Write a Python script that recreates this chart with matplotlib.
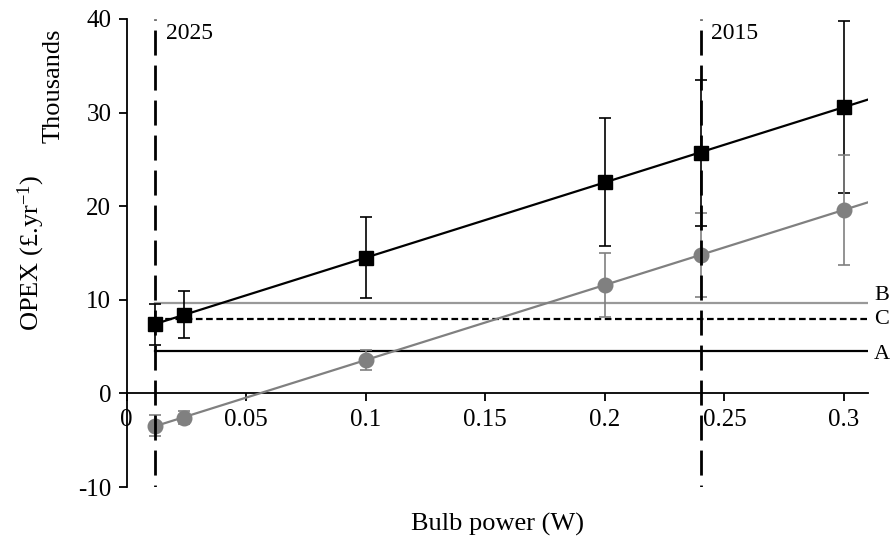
import matplotlib
matplotlib.use("Agg")
import matplotlib.pyplot as plt
import numpy as np

plt.rcParams['font.family'] = ['Liberation Serif', 'DejaVu Serif']
plt.rcParams['mathtext.fontset'] = 'custom'
plt.rcParams['mathtext.rm'] = 'Liberation Serif'
plt.rcParams['mathtext.default'] = 'regular'
plt.rcParams['axes.unicode_minus'] = False

# bulb power (W)
power = [0.012, 0.024, 0.1, 0.2, 0.24, 0.3]

# OPEX in thousands of £ per year, with +/- error
opex_total = [7.4, 8.4, 14.5, 22.6, 25.7, 30.6]
opex_total_err = [2.2, 2.5, 4.35, 6.8, 7.8, 9.2]
opex_net = [-3.45, -2.6, 3.57, 11.6, 14.8, 19.6]
opex_net_err = [1.1, 0.7, 1.05, 3.4, 4.5, 5.85]

# reference levels A, B, C
ref_names = ['A', 'B', 'C']
ref_values = [4.5, 9.7, 8.0]

# year markers
years = ['2025', '2015']
year_power = [0.012, 0.24]

grey = '#808080'

fig = plt.figure(figsize=(8.93, 5.41), dpi=100)
ax = fig.add_axes([0.1417, 0.0998, 0.972 - 0.1417, 0.9649 - 0.0998])
ax.set_xlim(0, 0.31)
ax.set_ylim(-10, 40)

# linear trends across the full power range
x_fit = np.array([power[0], 0.31])
k1, c1 = np.polyfit(power, opex_total, 1)
k2, c2 = np.polyfit(power, opex_net, 1)
ax.plot(x_fit, k1 * x_fit + c1, color='black', lw=1.6, zorder=3)
ax.plot(x_fit, k2 * x_fit + c2, color=grey, lw=1.6, zorder=3)

# reference levels, labels nudged so B and C do not collide
ref_styles = {'A': ('black', '-', -0.3), 'B': ('#999999', '-', 0.8), 'C': ('black', (0, (3, 1.6)), -0.1)}
for name, val in zip(ref_names, ref_values):
    col, ls, dy = ref_styles[name]
    ax.plot([power[0], 0.311], [val, val], color=col, ls=ls, lw=1.6, zorder=2)
    ax.text(0.3125, val + dy, name, fontsize=16, va='center', ha='left')

ax.errorbar(power, opex_total, yerr=opex_total_err, fmt='s', color='black',
            ms=10.5, elinewidth=1.2, capsize=4.5, capthick=1.2, zorder=4)
ax.errorbar(power, opex_net, yerr=opex_net_err, fmt='o', color=grey,
            ecolor=grey, ms=10.5, elinewidth=1.2, capsize=4.5, capthick=1.2, zorder=4)

# year markers drawn on top, dash phase leaves a short dot at each end
for lab, xp in zip(years, year_power):
    ax.plot([xp, xp], [-10, 40], color='black', lw=2, ls=(8.3, (9, 3.6)), zorder=5)
    ax.text(xp + 0.0045, 39.6, lab, fontsize=17, va='top', ha='left')

# axes crossing at the origin
ax.spines['top'].set_visible(False)
ax.spines['right'].set_visible(False)
ax.spines['bottom'].set_position(('data', 0))
ax.spines['left'].set_linewidth(1.3)
ax.spines['bottom'].set_linewidth(1.3)
ax.set_xticks([0, 0.05, 0.1, 0.15, 0.2, 0.25, 0.3])
ax.set_xticklabels(['0', '0.05', '0.1', '0.15', '0.2', '0.25', '0.3'])
ax.set_yticks([-10, 0, 10, 20, 30, 40])
ax.tick_params(direction='out', length=6, width=1.3, labelsize=18, pad=5)

ax.text(-0.128, 0.5, 'OPEX (£.yr$^{-1}$)', transform=ax.transAxes, rotation=90,
        fontsize=19, ha='center', va='center')
ax.text(-0.099, 0.98, 'Thousands', transform=ax.transAxes, rotation=90,
        fontsize=19, ha='center', va='top')
fig.text(0.557, 0.03, 'Bulb power (W)', fontsize=19, ha='center', va='center')

fig.savefig('out.png', dpi=100)
